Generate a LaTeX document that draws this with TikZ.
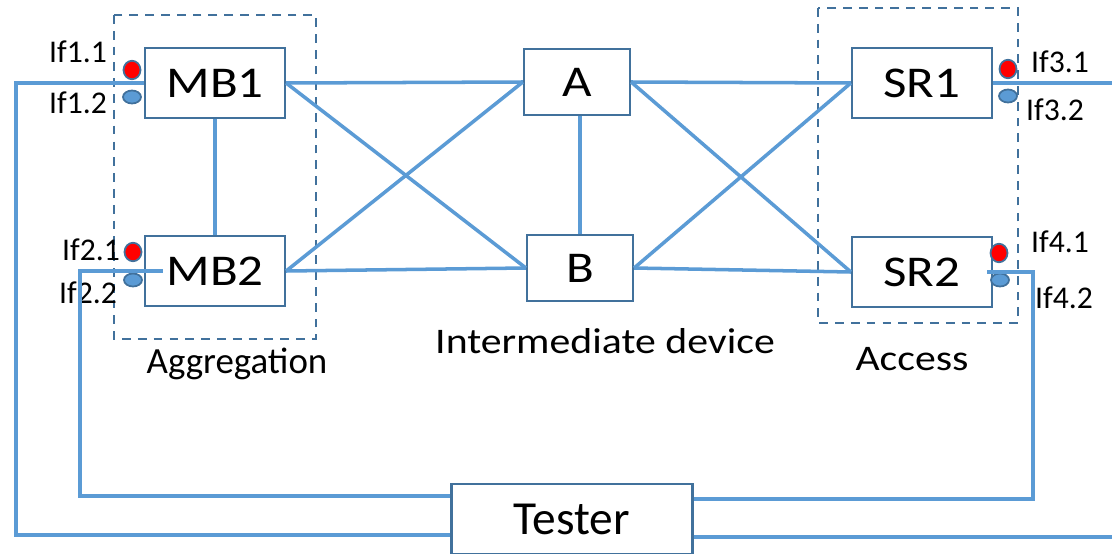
\documentclass[tikz,border=0pt]{standalone}
\usepackage{fontspec}
\setmainfont{Carlito}
\newfontfamily\widefont[FakeStretch=1.16]{Carlito}
\usepackage{tikz}
\usetikzlibrary{shapes.geometric}

\definecolor{linkblue}{RGB}{91,155,213}
\definecolor{edgeblue}{RGB}{65,113,156}

\begin{document}
\begin{tikzpicture}
  [x=0.02cm,y=-0.02cm,
  box/.style={draw=edgeblue,line width=1.3pt,fill=white,minimum width=2.8cm,minimum height=1.4cm,font=\widefont\fontsize{25}{28}\selectfont},
  small box/.style={box,minimum width=2.12cm,minimum height=1.32cm},
  link/.style={draw=linkblue,line width=2pt},
  port on/.style={ellipse,draw=edgeblue,line width=1pt,fill=red,inner sep=0pt,minimum width=0.34cm,minimum height=0.37cm},
  port off/.style={port on,fill=linkblue,minimum width=0.36cm,minimum height=0.26cm},
  port label/.style={font=\fontsize{18}{20}\selectfont,inner sep=0pt},
  group/.style={draw=edgeblue,line width=1.1pt,dash pattern=on 5pt off 4pt},
  caption/.style={anchor=base,inner sep=0pt,font=\widefont\fontsize{20.5}{24}\selectfont}]
  \useasboundingbox (0,0) rectangle (1112,554);

  % dashed groups
  \draw[group] (114,15) rectangle (316,339);
  \draw[group] (818,8) rectangle (1018,323);

  \node[box] (MB1) at 		(215,83) {MB1};
  \node[box] (MB2) at 		(215,271) {MB2};
  \node[small box] (A) at 	(577,82) {A};
  \node[small box] (B) at 	(580,268) {B};
  \node[box] (SR1) at 		(922,83) {SR1};
  \node[box] (SR2) at 		(922,272) {SR2};
  \node[box,minimum width=4.82cm,font=\fontsize{27}{30}\selectfont] (Tester) at (572,519) {Tester};

  \node[caption,font=\fontsize{21}{24}\selectfont] (aggr) at (237,373) {Aggregation};
  \node[caption] (inter) at 	(605,353) {Intermediate device};
  \node[caption] (acc) at 	(912,370) {Access};

  % interfaces
  \node[port on] (p11) at 	(132,70) {};
  \node[port off] (p12) at 	(132,97) {};
  \node[port on] (p21) at 	(133,252) {};
  \node[port off] (p22) at 	(133,280) {};
  \node[port on] (p31) at 	(1008,69) {};
  \node[port off] (p32) at 	(1008,96) {};
  \node[port on] (p41) at 	(999,253) {};
  \node[port off] (p42) at 	(1000,280) {};

  \node[port label] (l11) at 	(78,52) {If1.1};
  \node[port label] (l12) at 	(78,103) {If1.2};
  \node[port label] (l21) at 	(91,250) {If2.1};
  \node[port label] (l22) at 	(88,293) {If2.2};
  \node[port label] (l31) at 	(1060,62) {If3.1};
  \node[port label] (l32) at 	(1055,110) {If3.2};
  \node[port label] (l41) at 	(1060,242) {If4.1};
  \node[port label] (l42) at 	(1064,298) {If4.2};

  % corners of the tester cabling
  \coordinate (outer left) at 	(16,535);
  \coordinate (inner left) at 	(80,496);
  \coordinate (inner right) at 	(1033,499);
  \coordinate (outer right) at 	(1112,537);
  \coordinate (out top) at 	(1112,81);

   \foreach \from/\to in {MB1/A, MB1/B,
      MB2/A, MB2/B,
      A/SR1, A/SR2,
      B/SR1, B/SR2}
     \draw[link] (\from.east) -- (\to.west);

  \draw[link] (MB1) -- (MB2);
  \draw[link] (B.north) -- (B.north |- A.south);

  \draw[link] (MB1.west) -| (outer left) -- (Tester.west |- outer left);
  \draw[link] ([xshift=0.38cm]MB2.west) -| (inner left) -- (Tester.west |- inner left);
  \draw[link] ([xshift=-0.12cm]SR2.east) -| (inner right) -- (Tester.east |- inner right);
  \draw[link] (SR1.east) -- (SR1.east -| out top);
  \draw[link] (Tester.east |- outer right) -- (outer right);

\end{tikzpicture}
\end{document}
